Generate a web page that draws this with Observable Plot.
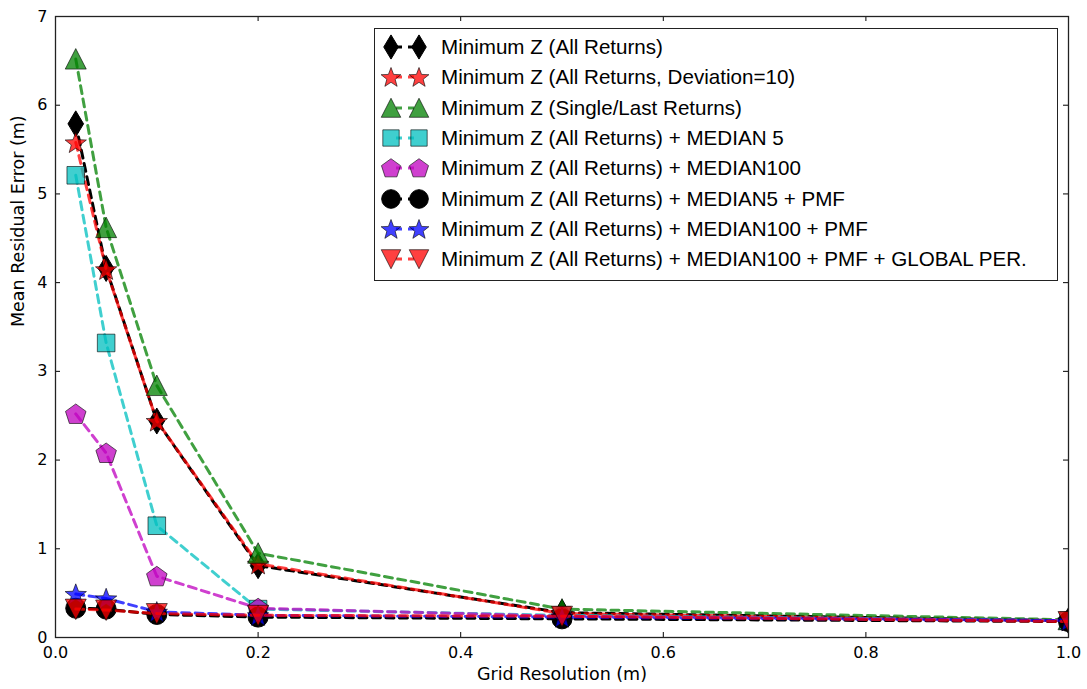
<!DOCTYPE html>
<html>
<head>
<meta charset="utf-8">
<script src="https://cdn.jsdelivr.net/npm/d3@7"></script>
<script src="https://cdn.jsdelivr.net/npm/@observablehq/plot@0.6"></script>
<style>
  body { margin: 0; background: white; }
  #wrap { position: relative; width: 1087px; height: 689px; }
  #legend { position: absolute; left: 374px; top: 28px; width: 684px; height: 253px;
            border: 1.3px solid #222; background: white; box-sizing: border-box;
            font-family: "Liberation Sans", Arial, sans-serif; font-size: 20.6px; color: black; }
  .row { position: absolute; left: 0; height: 30px; display: flex; align-items: center; white-space: nowrap; }
  .row svg { flex: none; }
</style>
</head>
<body>
<div id="wrap"></div>
<script>
// ---- data ----
const resolution = [0.02, 0.05, 0.1, 0.2, 0.5, 1.0];
const minZAll          = [5.79, 4.16, 2.44, 0.81, 0.28, 0.19];
const minZDev10        = [5.58, 4.15, 2.44, 0.83, 0.27, 0.19];
const minZSingleLast   = [6.52, 4.62, 2.84, 0.95, 0.32, 0.20];
const minZMedian5      = [5.21, 3.32, 1.26, 0.32, 0.25, 0.19];
const minZMedian100    = [2.52, 2.08, 0.69, 0.33, 0.24, 0.19];
const minZMedian5Pmf   = [0.33, 0.32, 0.26, 0.23, 0.21, 0.18];
const minZMedian100Pmf = [0.49, 0.44, 0.29, 0.25, 0.23, 0.19];
const minZMedian100PmfGlobal = [0.32, 0.31, 0.27, 0.25, 0.24, 0.18];

const seriesLabels = [
  "Minimum Z (All Returns)",
  "Minimum Z (All Returns, Deviation=10)",
  "Minimum Z (Single/Last Returns)",
  "Minimum Z (All Returns) + MEDIAN 5",
  "Minimum Z (All Returns) + MEDIAN100",
  "Minimum Z (All Returns) + MEDIAN5 + PMF",
  "Minimum Z (All Returns) + MEDIAN100 + PMF",
  "Minimum Z (All Returns) + MEDIAN100 + PMF + GLOBAL PER."
];
const seriesValues = [minZAll, minZDev10, minZSingleLast, minZMedian5, minZMedian100,
                      minZMedian5Pmf, minZMedian100Pmf, minZMedian100PmfGlobal];
const seriesColors = ["#000000", "#ff0000", "#008000", "#00bfbf", "#bf00bf", "#000000", "#0000ff", "#ff0000"];
const seriesAlpha  = [1, 0.75, 0.75, 0.75, 0.75, 1, 0.75, 0.75];
const seriesShapes = ["thinDiamond", "star", "triangleUp", "square", "pentagon", "circle", "star", "triangleDown"];

const xTicks = [0, 0.2, 0.4, 0.6, 0.8, 1.0];
const yTicks = [0, 1, 2, 3, 4, 5, 6, 7];

// ---- custom symbols ----
function sym(fn) { return { draw(ctx, size) { const r = Math.sqrt(size / Math.PI); fn(ctx, r); } }; }
function poly(ctx, pts) { ctx.moveTo(pts[0][0], pts[0][1]); for (let i = 1; i < pts.length; i++) ctx.lineTo(pts[i][0], pts[i][1]); ctx.closePath(); }
const symbols = {
  thinDiamond: sym((c, r) => poly(c, [[0, -1.3 * r], [0.78 * r, 0], [0, 1.3 * r], [-0.78 * r, 0]])),
  star: sym((c, r) => {
    const R = 1.12 * r, ri = R * 0.42, pts = [];
    for (let i = 0; i < 10; i++) {
      const a = -Math.PI / 2 + i * Math.PI / 5, rr = i % 2 ? ri : R;
      pts.push([rr * Math.cos(a), rr * Math.sin(a) + 0.1 * r]);
    }
    poly(c, pts);
  }),
  triangleUp: sym((c, r) => poly(c, [[0, -1.05 * r], [1.05 * r, 1.0 * r], [-1.05 * r, 1.0 * r]])),
  triangleDown: sym((c, r) => poly(c, [[0, 1.05 * r], [1.05 * r, -1.0 * r], [-1.05 * r, -1.0 * r]])),
  square: sym((c, r) => poly(c, [[-0.88 * r, -0.88 * r], [0.88 * r, -0.88 * r], [0.88 * r, 0.88 * r], [-0.88 * r, 0.88 * r]])),
  pentagon: sym((c, r) => {
    const R = 1.08 * r, pts = [];
    for (let i = 0; i < 5; i++) { const a = -Math.PI / 2 + i * 2 * Math.PI / 5; pts.push([R * Math.cos(a), R * Math.sin(a) + 0.08 * r]); }
    poly(c, pts);
  }),
  circle: sym((c, r) => { c.moveTo(r, 0); c.arc(0, 0, r, 0, 2 * Math.PI); c.closePath(); })
};
const markerR = 10;
const legendMarkerR = 9.3;

// ---- chart ----
const W = 1087, H = 689, mL = 55, mR = 19, mT = 16, mB = 52;
const frameH = H - mT - mB, frameW = W - mL - mR, tickLen = 5;

const seriesMarks = [];
seriesValues.forEach((vals, s) => {
  const data = resolution.map((x, i) => ({ x, y: vals[i] }));
  const col = seriesColors[s], a = seriesAlpha[s];
  seriesMarks.push(Plot.line(data, {
    x: "x", y: "y", stroke: col, strokeOpacity: a, strokeWidth: 3,
    strokeDasharray: "8,5.5", clip: true
  }));
  seriesMarks.push(Plot.dot(data, {
    x: "x", y: "y", r: markerR, symbol: symbols[seriesShapes[s]],
    fill: col, fillOpacity: a, stroke: "#000", strokeOpacity: a === 1 ? 1 : 0.6, strokeWidth: 1, clip: true
  }));
});

const chart = Plot.plot({
  width: W, height: H,
  marginLeft: mL, marginRight: mR, marginTop: mT, marginBottom: mB,
  style: { fontFamily: "DejaVu Sans, sans-serif", fontSize: "16px", background: "white", color: "black" },
  x: { domain: [0, 1] },
  y: { domain: [0, 7] },
  marks: [
    // inward ticks on all four sides
    Plot.ruleX(xTicks, { x: d => d, insetTop: frameH - tickLen, stroke: "black", strokeWidth: 1 }),
    Plot.ruleX(xTicks, { x: d => d, insetBottom: frameH - tickLen, stroke: "black", strokeWidth: 1 }),
    Plot.ruleY(yTicks, { y: d => d, insetRight: frameW - tickLen, stroke: "black", strokeWidth: 1 }),
    Plot.ruleY(yTicks, { y: d => d, insetLeft: frameW - tickLen, stroke: "black", strokeWidth: 1 }),
    Plot.axisX(xTicks, { tickSize: 0, tickPadding: 9, tickFormat: d3.format(".1f"), label: null, fontSize: 16 }),
    Plot.axisY(yTicks, { tickSize: 0, tickPadding: 8, tickFormat: d3.format("d"), label: null, fontSize: 16 }),
    Plot.text(["Grid Resolution (m)"], { text: d => d, frameAnchor: "bottom", dy: 42, fontSize: 17.5 }),
    Plot.text(["Mean Residual Error (m)"], { text: d => d, frameAnchor: "left", dx: -37, rotate: -90, fontSize: 17.5 }),
    ...seriesMarks,
    Plot.frame({ stroke: "#222", strokeWidth: 1.3 })
  ]
});

const wrap = document.getElementById("wrap");
wrap.appendChild(chart);

// ---- legend ----
const legend = document.createElement("div");
legend.id = "legend";
wrap.appendChild(legend);
seriesLabels.forEach((label, s) => {
  const row = document.createElement("div");
  row.className = "row";
  row.style.top = (3 + s * 30.3) + "px";
  const svg = d3.create("svg").attr("width", 66).attr("height", 30);
  const col = seriesColors[s], a = seriesAlpha[s];
  svg.append("line").attr("x1", 16).attr("x2", 44).attr("y1", 15).attr("y2", 15)
    .attr("stroke", col).attr("stroke-opacity", a).attr("stroke-width", 3).attr("stroke-dasharray", "6,6")
    .attr("stroke-dashoffset", -5);
  [16, 44].forEach(cx => {
    const p = d3.path();
    symbols[seriesShapes[s]].draw(p, Math.PI * legendMarkerR * legendMarkerR);
    svg.append("path").attr("d", p.toString()).attr("transform", `translate(${cx},15)`)
      .attr("fill", col).attr("fill-opacity", a).attr("stroke", "#000")
      .attr("stroke-opacity", a === 1 ? 1 : 0.6).attr("stroke-width", 1);
  });
  row.appendChild(svg.node());
  const span = document.createElement("span");
  span.textContent = label;
  row.appendChild(span);
  legend.appendChild(row);
});
</script>
</body>
</html>
